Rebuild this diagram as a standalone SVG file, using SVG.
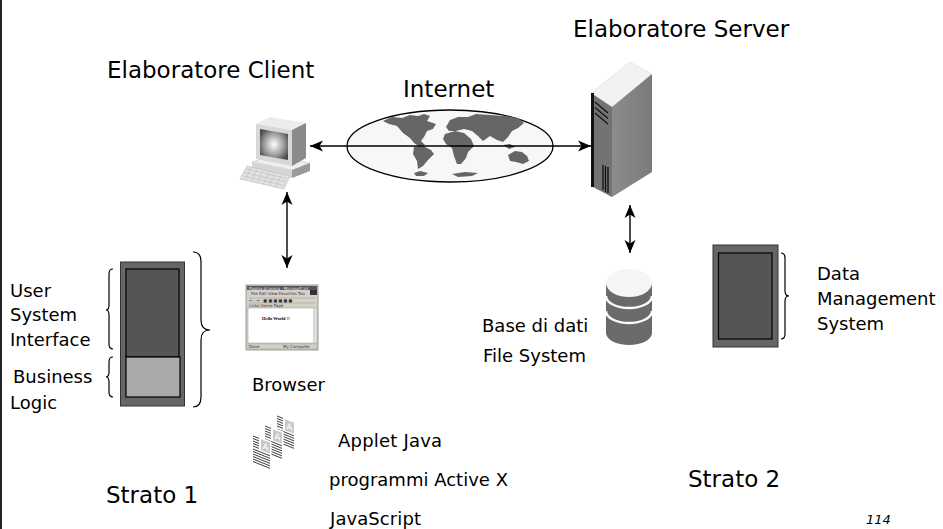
<svg xmlns="http://www.w3.org/2000/svg" width="943" height="529" viewBox="0 0 943 529">
  <defs>
    <style>
      text { font-family: "DejaVu Sans", "Liberation Sans", sans-serif; fill: #000; }
      .big { font-size: 23px; }
      .mid { font-size: 18px; }
      .brace { fill: none; stroke: #000; stroke-width: 1.2; }
      .conn { fill: none; stroke: #000; stroke-width: 1.4; }
      .tier-outer { fill: #666; stroke: #333; stroke-width: 1; }
      .tier-inner { fill: #555; stroke: #000; stroke-width: 1.2; }
      .land { fill: #666; }
      .tiny { font-size: 4px; fill: #333; }
    </style>
    <marker id="arrow" markerUnits="userSpaceOnUse" markerWidth="14" markerHeight="12" refX="13" refY="6" orient="auto-start-reverse">
      <path d="M0,0.5 L13,6 L0,11.5 L3.5,6 Z" fill="#000"/>
    </marker>
    <radialGradient id="screenGlow" cx="0.5" cy="0.5" r="0.6">
      <stop offset="0" stop-color="#ffffff"/>
      <stop offset="0.6" stop-color="#9a9a9a"/>
      <stop offset="1" stop-color="#4a4a4a"/>
    </radialGradient>
    <linearGradient id="towerSide" x1="0" y1="0" x2="1" y2="0">
      <stop offset="0" stop-color="#8c8c8c"/>
      <stop offset="1" stop-color="#7a7a7a"/>
    </linearGradient>
    <!-- one document sheet of the applet stack -->
    <g id="page">
      <rect x="-1.5" y="-2" width="20" height="30" fill="#fff"/>
      <rect x="8" y="0" width="9" height="11" fill="#c8c8c8"/>
      <text x="12.5" y="9" font-size="9" text-anchor="middle" style="fill:#fff" font-family="Liberation Sans, sans-serif">A</text>
      <path d="M0,0H6 M0,2.5H6 M0,5H6 M0,7.5H6 M0,10H6 M0,13H17 M0,15.5H17 M0,18H17 M0,20.5H17 M0,23H17 M0,25.5H17" stroke="#222" stroke-width="0.8"/>
    </g>
  </defs>

  <!-- page edge rule -->
  <rect x="0" y="0" width="2" height="529" fill="#222"/>

  <!-- headings -->
  <text class="big" x="573" y="37">Elaboratore Server</text>
  <text class="big" x="107" y="78">Elaboratore Client</text>
  <text class="big" x="403" y="97">Internet</text>

  <!-- Internet globe -->
  <g id="internet">
    <ellipse cx="450" cy="146" rx="103" ry="36" fill="#f7f7f7" stroke="#000" stroke-width="1.3"/>
    <!-- North America + Greenland -->
    <path class="land" d="M383,121 L392,117 L402,118 L410,115 L418,116 L424,114 L430,116 L427,121 L436,124 L433,129 L427,131 L424,137 L421,141 L425,145 L420,147 L414,143 L410,138 L403,133 L397,126 L389,124 Z"/>
    <!-- South America -->
    <path class="land" d="M414,147 L423,146 L431,150 L434,154 L428,160 L423,166 L418,169 L417,161 L413,154 Z"/>
    <!-- Europe and Asia -->
    <path class="land" d="M446,127 L450,120 L458,117 L468,117 L476,114 L490,115 L505,116 L518,118 L524,123 L518,128 L512,131 L508,137 L503,142 L497,140 L490,136 L483,141 L478,136 L472,131 L464,129 L456,131 L449,131 Z"/>
    <!-- Africa -->
    <path class="land" d="M445,134 L455,131 L464,133 L471,139 L474,146 L468,152 L466,158 L461,164 L457,164 L454,156 L452,148 L446,144 L443,139 Z"/>
    <!-- Southeast Asia islands -->
    <path class="land" d="M503,145 L510,144 L515,147 L509,149 Z"/>
    <!-- Australia -->
    <path class="land" d="M508,155 L515,151 L522,152 L527,156 L529,161 L523,164 L516,162 L510,161 Z"/>
    <!-- Antarctic fragments -->
    <path class="land" d="M414,173 L420,171 L428,173 L424,176 L416,176 Z"/>
    <path class="land" d="M452,174 L465,172 L478,173 L472,176 L458,177 Z"/>
  </g>

  <!-- Client computer -->
  <g id="client-pc">
    <!-- base unit -->
    <polygon points="252,162 270,156 310,163 292,170" fill="#eeeeee" stroke="#bbb" stroke-width="0.5"/>
    <polygon points="252,162 292,170 292,178 252,170" fill="#d6d6d6"/>
    <polygon points="292,170 310,163 310,171 292,178" fill="#9a9a9a"/>
    <!-- monitor -->
    <polygon points="256,124 270,117 306,123 292,130" fill="#ececec"/>
    <polygon points="292,130 306,123 306,158 292,166" fill="#8a8a8a"/>
    <polygon points="256,124 292,130 292,166 256,159" fill="#d8d8d8"/>
    <polygon points="260,129 288,134 288,160 260,155" fill="url(#screenGlow)"/>
    <!-- keyboard -->
    <polygon points="247,166 290,176 284,189 240,179" fill="#e2e2e2" stroke="#bbb" stroke-width="0.6"/>
    <path d="M246,169 L287,178.5 M244,172.5 L286,182 M243,176 L285,185.5 M251,168 L245,180 M257,169.5 L251,181.5 M263,171 L257,183 M269,172.5 L263,184.5 M275,174 L269,186 M281,175.5 L275,187.5" stroke="#c4c4c4" stroke-width="0.8"/>
  </g>

  <!-- Server tower -->
  <g id="server">
    <polygon points="591,93 630,62 652,74 612,107" fill="#f2f2f2" stroke="#ddd" stroke-width="0.6"/>
    <polygon points="612,107 652,74 652,172 612,197" fill="url(#towerSide)"/>
    <polygon points="591,93 612,107 612,197 591,186" fill="#737373"/>
    <rect x="591" y="93" width="3" height="94" fill="#111"/>
    <path d="M595,102 L608,113 M595,107.5 L608,118.5 M595,113 L608,124" stroke="#111" stroke-width="1.2"/>
    <path d="M603,165 V190 M605.5,166 V192 M608,167 V193" stroke="#111" stroke-width="1.3"/>
  </g>

  <!-- Database -->
  <g id="database">
    <path d="M606,283 V333 A23,12 0 0 0 652,333 V283 Z" fill="#6a6a6a"/>
    <path d="M606,296 A23,12 0 0 0 652,296 M606,311 A23,12 0 0 0 652,311" fill="none" stroke="#fafafa" stroke-width="2.5"/>
    <ellipse cx="629" cy="283" rx="23" ry="14" fill="#f5f5f5"/>
  </g>

  <!-- Browser window -->
  <g id="browser">
    <rect x="246" y="285" width="72" height="65" fill="#d4d0c8" stroke="#888" stroke-width="0.8"/>
    <rect x="247" y="286" width="70" height="4" fill="#555"/>
    <rect x="310" y="290" width="7" height="5" fill="#333"/>
    <text class="tiny" x="249" y="289.5" style="fill:#eee">Pagina di prova - Microsoft Int</text>
    <text class="tiny" x="251" y="294.5">File  Edit  View  Favorites  Too</text>
    <path d="M249,298 H315 M249,303 H315" stroke="#999" stroke-width="0.5"/>
    <text class="tiny" x="249" y="301.5">&#8592; &#183; &#8594; &#183; &#9632; &#9632; &#9632;   &#9632; &#9632; &#9632;</text>
    <text class="tiny" x="249" y="306.5">Links  Home Page</text>
    <rect x="248" y="308" width="66" height="35" fill="#fff" stroke="#999" stroke-width="0.5"/>
    <rect x="314" y="308" width="3" height="35" fill="#e6e6e6" stroke="#999" stroke-width="0.4"/>
    <text x="262" y="320" font-size="4.5" font-weight="bold" style="font-family:'Liberation Serif',serif">Hello World !!</text>
    <rect x="248" y="344" width="69" height="5" fill="#d4d0c8" stroke="#999" stroke-width="0.4"/>
    <text class="tiny" x="249" y="348">Done</text>
    <text class="tiny" x="283" y="348">My Computer</text>
  </g>
  <text class="mid" x="252" y="391">Browser</text>

  <!-- Applet documents -->
  <g id="applets">
    <use href="#page" transform="translate(277,416) skewY(22)"/>
    <use href="#page" transform="translate(265,426) skewY(22)"/>
    <use href="#page" transform="translate(253,436) skewY(22)"/>
  </g>
  <text class="mid" x="338" y="447" textLength="104">Applet Java</text>
  <text class="mid" x="329" y="486" textLength="179">programmi Active X</text>
  <text class="mid" x="330" y="525" textLength="91">JavaScript</text>

  <!-- Tier 1: client side layers -->
  <g id="tier1">
    <rect class="tier-outer" x="120.5" y="262" width="64" height="144"/>
    <rect class="tier-inner" x="126" y="269" width="53" height="88"/>
    <rect x="126" y="357" width="54" height="40" fill="#aaa" stroke="#000" stroke-width="1.2"/>
    <path class="brace" d="M113,269 Q109,269 109,274 L109,305 Q109,310 106,310 Q109,310 109,315 L109,344 Q109,349 113,349"/>
    <path class="brace" d="M113,357 Q109,357 109,362 L109,372 Q109,377 106,377 Q109,377 109,382 L109,392 Q109,397 113,397"/>
    <path class="brace" d="M193,252 Q201,252 201,262 L201,320 Q201,330 210,330 Q201,330 201,340 L201,397 Q201,407 193,407"/>
    <text class="mid" x="10" y="297">User</text>
    <text class="mid" x="10" y="321">System</text>
    <text class="mid" x="10" y="346">Interface</text>
    <text class="mid" x="13" y="383">Business</text>
    <text class="mid" x="10" y="409">Logic</text>
  </g>

  <!-- Tier 2: data management -->
  <g id="tier2">
    <rect class="tier-outer" x="713" y="245" width="65" height="102"/>
    <rect class="tier-inner" x="718.5" y="253" width="53.5" height="86"/>
    <path class="brace" d="M781,253 Q785,253 785,258 L785,291 Q785,296 789,296 Q785,296 785,301 L785,334 Q785,339 781,339"/>
    <text class="mid" x="817" y="280">Data</text>
    <text class="mid" x="817" y="305">Management</text>
    <text class="mid" x="817" y="330">System</text>
  </g>

  <text class="mid" x="482" y="332">Base di  dati</text>
  <text class="mid" x="483" y="362">File System</text>

  <text class="big" x="106" y="503">Strato 1</text>
  <text class="big" x="688" y="487">Strato 2</text>
  <text x="866" y="524" font-size="13" font-style="italic">114</text>

  <!-- connectors -->
  <g id="connectors">
    <line class="conn" x1="310" y1="146" x2="591" y2="146" marker-start="url(#arrow)" marker-end="url(#arrow)"/>
    <line class="conn" x1="287" y1="192" x2="287" y2="268" marker-start="url(#arrow)" marker-end="url(#arrow)"/>
    <line class="conn" x1="630" y1="205" x2="630" y2="253" marker-start="url(#arrow)" marker-end="url(#arrow)"/>
  </g>
</svg>
